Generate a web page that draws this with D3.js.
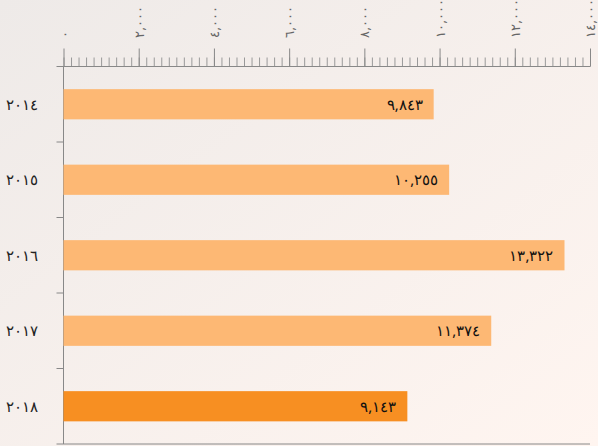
<!DOCTYPE html>
<html>
<head>
<meta charset="utf-8">
<script src="https://cdn.jsdelivr.net/npm/d3@7"></script>
<style>
  html, body { margin: 0; padding: 0; }
  body { width: 598px; height: 446px; overflow: hidden; }
  text { font-family: "Noto Sans", sans-serif; }
</style>
</head>
<body>
<div id="chart"></div>
<script>
// data
var years = ["2014", "2015", "2016", "2017", "2018"];
var values = [9843, 10255, 13322, 11374, 9143];
var xTicks = [0, 2000, 4000, 6000, 8000, 10000, 12000, 14000];
var highlightYear = "2018";

var W = 598, H = 446;
var margin = { top: 66.5, right: 8, bottom: 2, left: 63.5 },
  width = 590 - margin.left,
  height = 444 - margin.top;

// arabic-indic digits
var loc = d3.formatLocale({
  decimal: ".", thousands: ",", grouping: [3], currency: ["", ""],
  numerals: ["٠", "١", "٢", "٣", "٤", "٥", "٦", "٧", "٨", "٩"]
});
var fmt = loc.format(",d");
var yearFmt = loc.format("d");

var svg = d3.select("#chart").append("svg")
  .attr("width", W).attr("height", H);

var defs = svg.append("defs");
var grad = defs.append("linearGradient").attr("id", "bg")
  .attr("x1", "0%").attr("y1", "0%").attr("x2", "100%").attr("y2", "100%");
grad.append("stop").attr("offset", "0%").attr("stop-color", "#eeeae8");
grad.append("stop").attr("offset", "100%").attr("stop-color", "#fff5f0");
svg.append("rect").attr("width", W).attr("height", H).attr("fill", "url(#bg)");

var g = svg.append("g")
  .attr("transform", "translate(" + margin.left + "," + margin.top + ")");

var x = d3.scaleLinear().domain([0, 14000]).range([0, width]);
var y = d3.scaleBand().domain(years).range([0, height]).paddingInner(0.6).paddingOuter(0.3);
var yb = d3.scaleBand().domain(years).range([0, height]);

// minor ticks
g.append("g")
  .call(d3.axisTop(x).tickValues(d3.range(0, 14001, 200)).tickSize(9).tickFormat(""))
  .call(a => a.select(".domain").remove())
  .call(a => a.selectAll("line").attr("stroke", "#999"));

// major ticks + labels
var xa = g.append("g")
  .call(d3.axisTop(x).tickValues(xTicks).tickSize(18).tickFormat(fmt).tickSizeOuter(0));
xa.select(".domain").attr("stroke", "#888").attr("d", "M-7,0H" + width);
xa.selectAll("line").attr("stroke", "#888");
xa.selectAll("text")
  .attr("transform", "rotate(-90)")
  .attr("x", 29).attr("y", 0).attr("dy", "0.35em")
  .attr("text-anchor", "start")
  .attr("font-size", 13).attr("fill", "#666");

// y axis
g.append("line").attr("x1", 0).attr("x2", 0).attr("y1", 0).attr("y2", height).attr("stroke", "#888");
g.append("line").attr("x1", -7).attr("x2", width).attr("y1", height).attr("y2", height).attr("stroke", "#888");
g.append("g").selectAll("line")
  .data(years.slice(1)).enter().append("line")
  .attr("x1", -7).attr("x2", 0)
  .attr("y1", d => yb(d)).attr("y2", d => yb(d))
  .attr("stroke", "#888");

g.append("g").selectAll("text")
  .data(years).enter().append("text")
  .attr("x", -26).attr("y", d => y(d) + y.bandwidth() / 2)
  .attr("dy", "0.35em").attr("text-anchor", "end")
  .attr("font-size", 15).attr("fill", "#222")
  .text(d => yearFmt(+d));

// bars
var data = years.map((d, i) => ({ year: d, value: values[i] }));
g.append("g").selectAll("rect")
  .data(data).enter().append("rect")
  .attr("x", 0).attr("y", d => y(d.year))
  .attr("width", d => x(d.value)).attr("height", y.bandwidth())
  .attr("fill", d => d.year == highlightYear ? "#f78f22" : "#fdb874");

g.append("g").selectAll("text")
  .data(data).enter().append("text")
  .attr("x", d => x(d.value) - 11).attr("y", d => y(d.year) + y.bandwidth() / 2)
  .attr("dy", "0.35em").attr("text-anchor", "end")
  .attr("font-size", 15).attr("fill", "#111")
  .text(d => fmt(d.value));
</script>
</body>
</html>
